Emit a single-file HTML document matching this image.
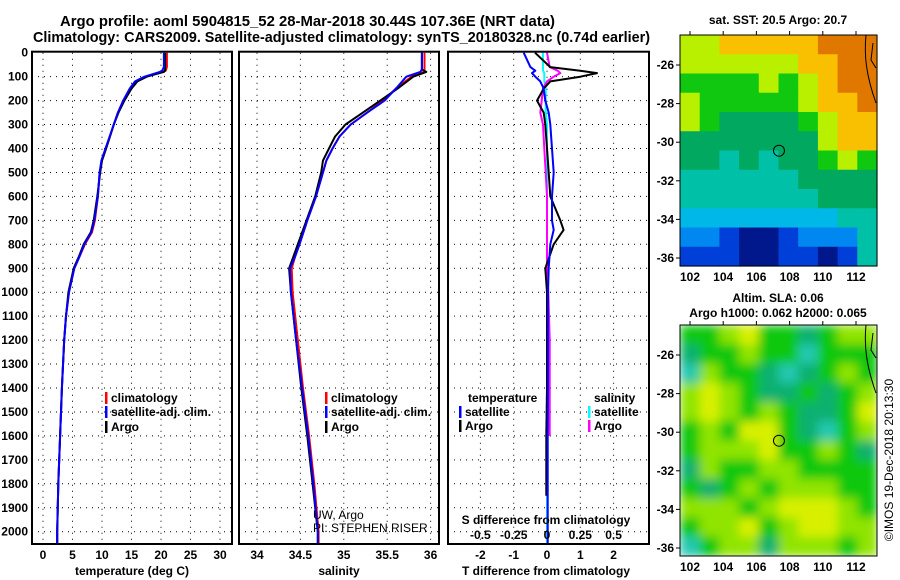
<!DOCTYPE html>
<html><head><meta charset="utf-8"><style>
body{margin:0;background:#fff}
svg{display:block;font-family:"Liberation Sans",Arial,sans-serif}
.b{font-weight:bold;font-size:12px}
.n{font-size:12px}
.t{font-size:15px;font-weight:bold}
</style></head><body>
<svg id="c" width="900" height="580" viewBox="0 0 900 580" xmlns="http://www.w3.org/2000/svg">
<defs>
<clipPath id="clipSla"><rect x="680" y="325" width="197" height="231"/></clipPath>
<filter id="blur"><feGaussianBlur stdDeviation="5"/></filter>
</defs>
<text class="t" x="60" y="26" textLength="495" lengthAdjust="spacingAndGlyphs">Argo profile: aoml 5904815_52 28-Mar-2018 30.44S 107.36E (NRT data)</text>
<text class="t" x="33" y="42" textLength="617" lengthAdjust="spacingAndGlyphs">Climatology: CARS2009. Satellite-adjusted climatology: synTS_20180328.nc (0.74d earlier)</text>
<g id="g"></g>
</svg>
<script>
// ---- profile data ----
const depthT = [0,60,75,80,90,100,120,150,200,250,300,400,450,500,600,700,750,800,850,900,1000,1100,1200,1400,1600,1800,2000,2050];
const tempArgo = [20.7,20.7,20.7,20.5,19.0,17.6,16.0,15.0,13.8,12.8,12.0,10.7,10.0,9.7,9.2,8.6,8.1,6.9,6.1,5.2,4.3,3.9,3.6,3.2,2.9,2.6,2.4,2.4];
const tempClim = [21.0,21.0,20.8,20.0,18.8,17.3,15.7,14.8,13.6,12.7,12.0,10.7,10.0,9.6,9.3,8.8,8.3,7.1,6.2,5.3,4.4,3.9,3.6,3.2,2.9,2.6,2.4,2.4];
const tempSat = [20.5,20.5,20.2,19.8,18.5,17.2,15.6,14.7,13.6,12.7,12.0,10.6,9.9,9.6,9.3,8.7,8.2,7.0,6.2,5.3,4.4,3.9,3.6,3.2,2.9,2.6,2.4,2.4];
const depthS = [0,70,80,100,150,200,250,300,350,400,450,500,600,700,800,850,900,1000,1200,1400,1600,1800,2000,2050];
const salArgo = [35.9,35.9,35.95,35.8,35.62,35.42,35.22,35.02,34.9,34.83,34.76,34.74,34.67,34.57,34.47,34.42,34.37,34.39,34.45,34.51,34.58,34.64,34.70,34.70];
const salClim = [35.93,35.93,35.92,35.78,35.6,35.45,35.27,35.08,34.95,34.87,34.8,34.76,34.68,34.58,34.49,34.44,34.4,34.41,34.47,34.53,34.6,34.66,34.71,34.71];
const salSat = [35.9,35.9,35.88,35.72,35.6,35.47,35.27,35.08,34.95,34.87,34.8,34.76,34.68,34.58,34.49,34.44,34.38,34.39,34.45,34.52,34.59,34.65,34.70,34.70];
const depthD = [0,60,75,85,100,120,150,200,250,300,400,500,600,700,740,800,900,1000,1200,1400,1600,1850,2050];
const dTArgo = [-0.36,0.1,1.0,1.5,1.0,0.1,-0.1,-0.3,-0.1,-0.05,0.0,0.05,0.1,0.4,0.5,0.2,-0.05,0.0,0.0,0.0,-0.02,-0.02,null];
const dTSat = [-0.7,-0.5,-0.35,-0.45,-0.35,-0.2,-0.1,-0.05,0.05,0.1,0.15,0.2,0.15,0.15,0.2,0.1,0.05,0.03,0.03,0.03,0.02,0.02,0.02];
const dSArgo = [0.0,0.02,0.08,0.1,0.05,0.0,-0.03,-0.04,-0.05,-0.03,-0.02,-0.01,0.0,0.0,0.0,0.0,0.0,0.01,0.02,0.02,0.02,null,null];
const dSSat = [-0.03,-0.03,-0.03,-0.02,-0.02,-0.02,-0.01,-0.01,-0.01,0.0,0.0,0.0,0.0,0.0,0.0,0.0,0.0,0.0,0.0,0.0,0.0,0.0,0.0];
const depthTicks = [0,100,200,300,400,500,600,700,800,900,1000,1100,1200,1300,1400,1500,1600,1700,1800,1900,2000];
const tempTicks = [0,5,10,15,20,25,30];
const salTicks = [34,34.5,35,35.5,36];
const dTTicks = [-2,-1,0,1,2];
const dSTicks = [-0.5,-0.25,0,0.25,0.5];
const latTicks = [-26,-28,-30,-32,-34,-36];
const lonTicks = [102,104,106,108,110,112];
// map fields (class index)
const sstGrid = [
[7,7,8,8,8,8,8,9,9,9],[7,7,7,7,7,7,8,8,9,9],[6,6,6,6,7,6,7,8,9,9],[7,6,6,6,6,6,7,8,8,9],
[7,6,5,5,5,5,6,7,8,8],[5,5,5,5,5,5,5,7,8,8],[5,5,4,5,4,5,5,6,7,6],[4,4,4,4,4,4,5,5,5,5],
[4,4,4,4,4,4,4,5,5,5],[3,3,3,3,3,3,3,3,4,4],[2,2,1,0,0,1,2,2,2,4],[1,1,1,0,0,1,1,0,1,4]];
const slaGrid = [
[2,2,3,4,2,2,1,2,3,3],[1,2,2,3,2,2,0,2,2,2],[0,3,2,2,1,0,1,2,3,2],[3,4,3,2,1,1,2,1,2,3],
[3,4,3,2,3,2,1,1,2,4],[2,3,2,4,4,2,1,0,2,3],[2,3,3,3,4,2,2,3,2,1],[1,3,2,2,3,3,2,2,2,2],
[2,1,2,3,2,3,3,3,2,2],[3,3,3,2,3,4,4,4,3,2],[2,3,3,4,2,3,4,4,3,3],[0,2,3,3,1,3,3,3,2,3]];
const argoLon = 107.36, argoLat = -30.44;

const NS="http://www.w3.org/2000/svg";
const G=document.getElementById('g');
function el(tag,attrs,parent){const e=document.createElementNS(NS,tag);for(const k in attrs)e.setAttribute(k,attrs[k]);(parent||G).appendChild(e);return e;}
function txt(x,y,s,cls,anchor,fill){const t=el('text',{x:x,y:y,class:cls||'b','text-anchor':anchor||'start',fill:fill||'#000'});t.textContent=s;return t;}

const Y0=52.7, YS=0.2395;
const yD=d=>Y0+d*YS;
const xT=v=>43+v*5.9;
const xS=v=>257+(v-34)*86.8;
const xDT=v=>547+v*33.3;
const xDS=v=>547+v*133.2;
const P1={x0:32,x1:232},P2={x0:239,x1:439},P3={x0:448,x1:649};
const YB=544;

function frame(p,name){
  const r=el('rect',{x:p.x0,y:Y0-1,width:p.x1-p.x0,height:YB-Y0+1,fill:'none',stroke:'#000','stroke-width':2});
  
  
}
function hgrid(p){depthTicks.forEach(d=>{if(d>0){const l=el('line',{x1:p.x0,x2:p.x1,y1:yD(d),y2:yD(d),stroke:'#000','stroke-dasharray':'1 5'});}});}
function vgrid(p,ticks,fx){ticks.forEach(v=>{const l=el('line',{x1:fx(v),x2:fx(v),y1:Y0,y2:YB,stroke:'#000','stroke-dasharray':'1 5'});});}
function line(xs,ds,fx,col,name,w){
  let d='';let pen=false;
  xs.forEach((v,i)=>{if(v===null){pen=false;return;}d+=(pen?'L':'M')+fx(v).toFixed(1)+' '+yD(ds[i]).toFixed(1);pen=true;});
  const p=el('path',{d:d,fill:'none',stroke:col,'stroke-width':w||2,'stroke-linejoin':'round'});
  
  
}
// panel 1
hgrid(P1);vgrid(P1,tempTicks,xT);
line(tempClim,depthT,xT,'#f00','temp-climatology-line');
line(tempArgo,depthT,xT,'#000','temp-argo-line');
line(tempSat,depthT,xT,'#00f','temp-satellite-line');
frame(P1,'temperature-panel');
depthTicks.forEach(d=>{const t=txt(28,yD(d)+4,String(d),'b','end');});
tempTicks.forEach(v=>{const t=txt(xT(v),559,String(v),'b','middle');});
let at=txt(132,575,'temperature (deg C)','b','middle');
// panel 2
hgrid(P2);vgrid(P2,salTicks,xS);
line(salClim,depthS,xS,'#f00','sal-climatology-line');
line(salArgo,depthS,xS,'#000','sal-argo-line');
line(salSat,depthS,xS,'#00f','sal-satellite-line');
frame(P2,'salinity-panel');
salTicks.forEach(v=>{const t=txt(xS(v),559,String(v),'b','middle');});
at=txt(339,575,'salinity','b','middle');
let u=txt(313,519,'UW, Argo','n','start');
u=txt(313,532,'PI: STEPHEN RISER','n','start');
// panel 3
hgrid(P3);vgrid(P3,dTTicks,xDT);
line(dSSat,depthD,xDS,'#0ff','sal-diff-satellite-line');
line(dSArgo,depthD,xDS,'#f0f','sal-diff-argo-line');
line(dTArgo,depthD,xDT,'#000','temp-diff-argo-line');
line(dTSat,depthD,xDT,'#00f','temp-diff-satellite-line');
frame(P3,'difference-panel');
dTTicks.forEach(v=>{const t=txt(xDT(v),559,String(v),'b','middle');});
dSTicks.forEach(v=>{const t=txt(xDS(v),539,String(v),'b','middle');});
at=txt(546,575,'T difference from climatology','b','middle');
at=txt(546,524,'S difference from climatology','b','middle');
// legends
function leg(x,y,col,label,name){
  const m=el('rect',{x:x,y:y-10,width:2.5,height:12,fill:col});
  const t=txt(x+6,y,label);
}
leg(105,402,'#f00','climatology','legend-climatology');
leg(105,416,'#00f','satellite-adj. clim.','legend-satellite');
leg(105,431,'#000','Argo','legend-argo');
leg(325,402,'#f00','climatology','legend2-climatology');
leg(325,416,'#00f','satellite-adj. clim.','legend2-satellite');
leg(325,431,'#000','Argo','legend2-argo');
let lt=txt(468,402,'temperature');
leg(459,416,'#00f','satellite','legend-tdiff-satellite');
leg(459,430,'#000','Argo','legend-tdiff-argo');
lt=txt(594,402,'salinity');
leg(588,416,'#0ff','satellite','legend-sdiff-satellite');
leg(588,430,'#f0f','Argo','legend-sdiff-argo');

// maps
const sstPal=['#00188c','#0040d8','#0088f0','#00b8e8','#00c0a8','#00a860','#10c810','#b8f000','#f8c000','#e07800','#a00000'];
const slaPal=['#20c8b0','#10b070','#10c810','#90e400','#d8f000'];
const MX=680,MW=197,MH=231;
const lonX=lo=>690+(lo-102)*16.6;
const latYoff=la=>65+(-26-la)*19.3;
function map(y0,grid,pal,name,blur){
  const g=el('g',blur?{'clip-path':'url(#clipSla)'}:{});
  
  
  const inner=blur?el('g',{filter:'url(#blur)'},g):g;
  const cw=MW/grid[0].length,ch=MH/grid.length;
  grid.forEach((row,r)=>row.forEach((v,c)=>{
    const rc=el('rect',{x:MX+c*cw,y:y0+r*ch,width:cw+0.6,height:ch+0.6,fill:pal[v]},inner);
    
    
  }));
  const coast=el('path',{d:`M${MX+186} ${y0} C${MX+184} ${y0+20} ${MX+186} ${y0+40} ${MX+196} ${y0+68}`,fill:'none',stroke:'#000','stroke-width':1});
  
  const coast2=el('path',{d:`M${MX+193} ${y0+8} L${MX+191} ${y0+25} L${MX+196} ${y0+33}`,fill:'none',stroke:'#000','stroke-width':1});
  
  const fr=el('rect',{x:MX,y:y0,width:MW,height:MH,fill:'none',stroke:'#000','stroke-width':1});
  
  const circ=el('circle',{cx:lonX(argoLon),cy:y0-35+latYoff(argoLat),r:5.5,fill:'none',stroke:'#000','stroke-width':1});
  
  latTicks.forEach(la=>{const y=y0-35+latYoff(la);
    const tk=el('line',{x1:MX-4,x2:MX,y1:y,y2:y,stroke:'#000'});
    const t=txt(MX-6,y+4,String(la),'b','end');});
  lonTicks.forEach(lo=>{const x=lonX(lo);
    const tk=el('line',{x1:x,x2:x,y1:y0-4,y2:y0,stroke:'#000'});
    const t=txt(x,y0+MH+15,String(lo),'b','middle');});
}
map(35,sstGrid,sstPal,'sst-map',false);
map(325,slaGrid,slaPal,'sla-map',true);
let mt=txt(778,24,'sat. SST: 20.5 Argo: 20.7','b','middle');
mt=txt(778,302,'Altim. SLA: 0.06','b','middle');
mt=txt(778,317,'Argo h1000: 0.062 h2000: 0.065','b','middle');
const cp=el('text',{x:0,y:0,'font-size':'12',transform:'translate(893,460) rotate(-90)','text-anchor':'middle'});
cp.textContent='©IMOS 19-Dec-2018 20:13:30';


</script>
</body></html>
